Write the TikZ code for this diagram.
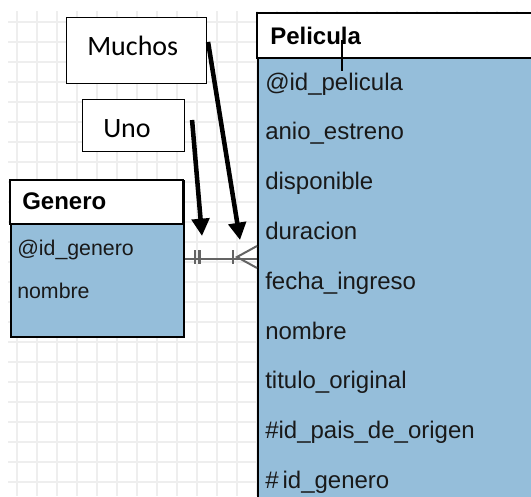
\documentclass[tikz,border=0pt]{standalone}
\usepackage{fontspec}
\setmainfont{Liberation Sans}
\newfontfamily\globofont{Carlito}
\usetikzlibrary{calc,arrows.meta}
\definecolor{tablafondo}{RGB}{149,190,218}
\definecolor{lineagris}{RGB}{100,100,100}
\definecolor{cuadrogris}{RGB}{238,238,238}
\tikzset{
  cuadro/.style={line width=0.8pt, color=cuadrogris},
  tabla/.style={draw=black, line width=1.3pt, inner sep=0pt},
  titulo/.style={anchor=base west, inner sep=0pt, font=\bfseries\fontsize{18}{18}\selectfont},
  campo/.style={anchor=base west, inner sep=0pt, font=\fontsize{18}{18}\selectfont, color=black!90},
  campochico/.style={anchor=base west, inner sep=0pt, font=\fontsize{16}{16}\selectfont, color=black!90},
  globo/.style={draw=black, line width=0.8pt, fill=white, inner sep=0pt, anchor=north west},
  globotexto/.style={anchor=base west, inner sep=0pt, font=\globofont\fontsize{21}{21}\selectfont},
  relacion/.style={line width=1.5pt, color=lineagris},
  flecha/.style={line width=3.4pt, -{Triangle[width=13pt,length=13pt]}}
}

\begin{document}
\begin{tikzpicture}[x=0.75pt, y=-0.75pt]
			%%%%% START %%%%%
			\useasboundingbox (0,0) rectangle (531,496);
			\clip (0,0) rectangle (531,496);
			
			% cuadricula
			\foreach \gx in {17,37,...,537} \draw[cuadro] (\gx,11) -- (\gx,496);
			\foreach \gy in {22,42,...,496} \draw[cuadro] (8,\gy) -- (531,\gy);
			
			% tabla Genero
			\node[tabla, fill=tablafondo, anchor=north west, minimum width=129.75pt, minimum height=117pt] (genero) at (10,180) {};
			\draw[line width=1.3pt, fill=white] (10,180) rectangle (183,224);
			\node[titulo] (generotit) at (22,209) {Genero};
			\node[campochico] (idgenero) at (17,255) {@id\_genero};
			\node[campochico] (nombregen) at (17,298) {nombre};
			
			% tabla Pelicula
			\node[tabla, fill=tablafondo, anchor=north west, minimum width=216pt, minimum height=372.75pt] (pelicula) at (257,13) {};
			\draw[line width=1.3pt, fill=white] (257,13) rectangle (545,58);
			\node[titulo] (pelitit) at (270,44) {Pelicula};
			\draw[line width=2pt] (342,40) -- (342,71);
			
			\node[campo] (idpelicula) at (265,90) {@id\_pelicula};
			\node[campo] (anio) at (265,139.8) {anio\_estreno};
			\node[campo] (disponible) at (265,189.6) {disponible};
			\node[campo] (duracion) at (265,239.4) {duracion};
			\node[campo] (fecha) at (265,289.2) {fecha\_ingreso};
			\node[campo] (nombrepel) at (265,339) {nombre};
			\node[campo] (titulo) at (265,388.8) {titulo\_original};
			\node[campo] (idpais) at (265,438.6) {\#id\_pais\_de\_origen};
			\node[campo] (idgenpel) at (265,488.4) {\#\,id\_genero};
			
			% relacion uno a muchos
			\draw[relacion] (genero.east) -- (genero.east -| pelicula.west);
			\draw[relacion, line width=2.2pt] (195,250) -- (195,264);
			\draw[relacion, line width=2.2pt] (199.5,250) -- (199.5,264);
			\draw[relacion, line width=2.2pt] (233,250) -- (233,264);
			\draw[relacion] (257,246) -- (237,257) -- (257,268);
			
			% globos de texto
			\node[globo, minimum width=105pt, minimum height=49.5pt] (muchos) at (66,17) {};
			\node[globotexto] at (87,55) {Muchos};
			\node[globo, minimum width=76.5pt, minimum height=39pt] (uno) at (82,99) {};
			\node[globotexto] at (103,137) {Uno};
			
			\coordinate (puntamuchos) at (240,240);
			\coordinate (puntauno) at (202,236);
			\draw[flecha] ($(muchos.north east)+(1,25)$) -- (puntamuchos);
			\draw[flecha] ($(uno.north east)+(7,21)$) -- (puntauno);
			
			%%%%% END %%%%%
		\end{tikzpicture}
\end{document}
